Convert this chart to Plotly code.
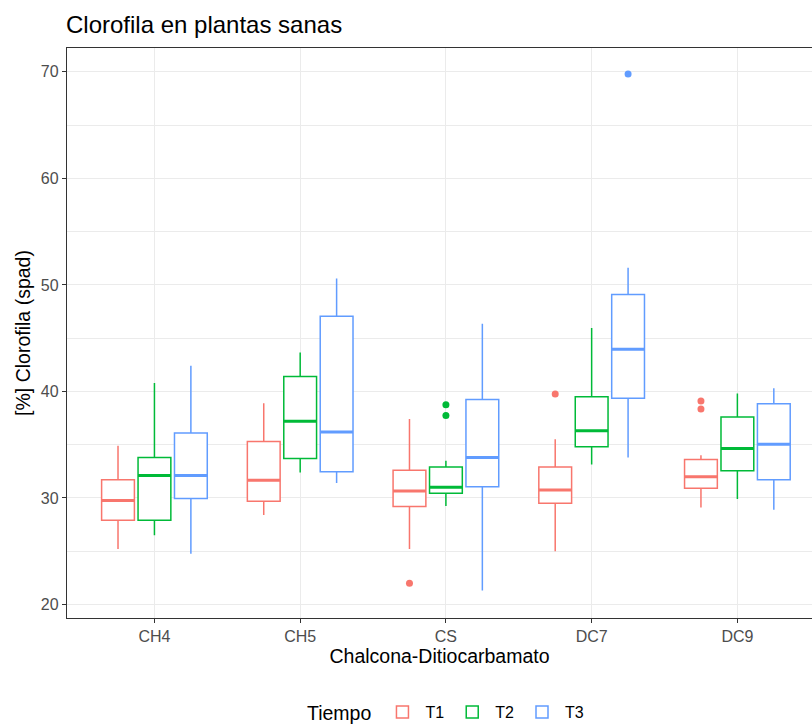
import plotly.graph_objects as go

categorias = ["CH4", "CH5", "CS", "DC7", "DC9"]
tiempos = ["T1", "T2", "T3"]
colores = ["#F8766D", "#00BA38", "#619CFF"]

# Estadísticos de cada caja
t1_lower = [25.2, 28.4, 25.2, 25.0, 29.1]
t1_q1 = [27.9, 29.7, 29.2, 29.5, 30.9]
t1_median = [29.75, 31.65, 30.65, 30.75, 32.0]
t1_q3 = [31.7, 35.3, 32.6, 32.9, 33.6]
t1_upper = [34.9, 38.9, 37.4, 35.5, 34.0]

t2_lower = [26.5, 32.4, 29.25, 33.15, 29.9]
t2_q1 = [27.9, 33.7, 30.45, 34.8, 32.55]
t2_median = [32.1, 37.2, 31.0, 36.3, 34.65]
t2_q3 = [33.8, 41.4, 32.9, 39.5, 37.6]
t2_upper = [40.8, 43.65, 33.5, 45.95, 39.8]

t3_lower = [24.75, 31.4, 21.3, 33.8, 28.9]
t3_q1 = [29.95, 32.45, 31.05, 39.35, 31.7]
t3_median = [32.1, 36.2, 33.8, 43.95, 35.05]
t3_q3 = [36.1, 47.05, 39.25, 49.1, 38.85]
t3_upper = [42.4, 50.6, 46.35, 51.6, 40.3]

# Valores atípicos
t1_out_x = ["CS", "DC7", "DC9", "DC9"]
t1_out_y = [22.0, 39.75, 39.1, 38.35]
t2_out_x = ["CS", "CS"]
t2_out_y = [38.75, 37.75]
t3_out_x = ["DC7"]
t3_out_y = [69.8]

stats = [
    (t1_lower, t1_q1, t1_median, t1_q3, t1_upper, t1_out_x, t1_out_y),
    (t2_lower, t2_q1, t2_median, t2_q3, t2_upper, t2_out_x, t2_out_y),
    (t3_lower, t3_q1, t3_median, t3_q3, t3_upper, t3_out_x, t3_out_y),
]

fig = go.Figure()
for name, col, (lf, q1, med, q3, uf, ox, oy) in zip(tiempos, colores, stats):
    fig.add_trace(go.Box(
        x=categorias, lowerfence=lf, q1=q1, median=med, q3=q3, upperfence=uf,
        name=name, offsetgroup=name, line=dict(color=col, width=1.5),
        fillcolor="white", boxpoints=False, whiskerwidth=0,
    ))
# línea de mediana más gruesa (como ggplot)
for name, col, (lf, q1, med, q3, uf, ox, oy) in zip(tiempos, colores, stats):
    fig.add_trace(go.Box(
        x=categorias, lowerfence=med, q1=med, median=med, q3=med, upperfence=med,
        name=name, offsetgroup=name, line=dict(color=col, width=3),
        fillcolor="rgba(0,0,0,0)", boxpoints=False, whiskerwidth=0,
        showlegend=False, hoverinfo="skip",
    ))
for name, col, (lf, q1, med, q3, uf, ox, oy) in zip(tiempos, colores, stats):
    fig.add_trace(go.Scatter(
        x=ox, y=oy, mode="markers", offsetgroup=name, showlegend=False,
        marker=dict(color=col, size=7), name=name,
    ))

FONT = "Liberation Sans, Arial, sans-serif"
fig.update_layout(
    width=812, height=724,
    margin=dict(l=66.5, r=0, t=47.5, b=105.5),
    paper_bgcolor="white", plot_bgcolor="white",
    font=dict(family=FONT, color="black"),
    boxmode="group", boxgap=0.25, boxgroupgap=0.1,
    scattermode="group", scattergap=0.25,
    title=dict(text="Clorofila en plantas sanas", x=66 / 812, xanchor="left",
               y=1 - 25 / 724, yanchor="middle", font=dict(size=24, color="black")),
    xaxis=dict(
        type="category", categoryorder="array", categoryarray=categorias,
        range=[-0.6, 4.512], showgrid=True, gridcolor="#EBEBEB", gridwidth=1,
        showline=True, linecolor="#333333", linewidth=1.3, mirror=True,
        ticks="outside", ticklen=4, tickcolor="#333333",
        tickfont=dict(size=16, color="#4D4D4D"),
        title=dict(text="Chalcona-Ditiocarbamato", font=dict(size=19.5, color="black"), standoff=4),
        zeroline=False,
    ),
    yaxis=dict(
        range=[18.73, 72.24], tickvals=[20, 30, 40, 50, 60, 70],
        showgrid=True, gridcolor="#EBEBEB", gridwidth=1,
        minor=dict(tickvals=[25, 35, 45, 55, 65], showgrid=True, gridcolor="#EBEBEB", gridwidth=1),
        showline=True, linecolor="#333333", linewidth=1.3,
        ticks="outside", ticklen=4, tickcolor="#333333",
        tickfont=dict(size=16, color="#4D4D4D"),
        title=dict(text="[%] Clorofila (spad)", font=dict(size=19.5, color="black"), standoff=5),
        zeroline=False,
    ),
    legend=dict(
        orientation="h", xref="container", yref="container",
        x=447 / 812, xanchor="center", y=11 / 724, yanchor="middle",
        title=dict(text="Tiempo", font=dict(size=19.5, color="black"), side="left"),
        font=dict(size=16, color="black"), itemwidth=36,
    ),
    showlegend=True,
)

fig.write_html("out.html")
